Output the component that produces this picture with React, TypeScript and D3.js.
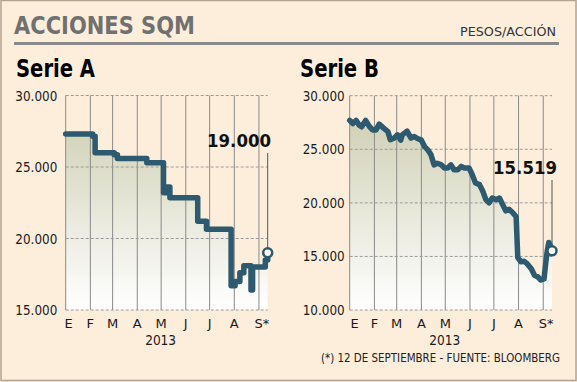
import React from "react";
import * as d3 from "d3";

const monthLabels = ["E", "F", "M", "A", "M", "J", "J", "A", "S*"];
const yearLabel = "2013";

const serieADates = [
  "2013-01-01", "2013-02-04", "2013-02-07", "2013-03-03", "2013-03-07",
  "2013-04-13", "2013-05-04", "2013-05-08", "2013-05-12", "2013-06-16",
  "2013-06-27", "2013-07-28", "2013-08-02", "2013-08-08", "2013-08-13",
  "2013-08-22", "2013-08-24", "2013-09-09", "2013-09-12",
];
const serieAValues = [
  27300, 27150, 26000, 25850, 25600,
  25300, 23200, 23600, 22850, 21200,
  20650, 16700, 17000, 17600, 18100,
  16400, 18000, 18500, 19000,
];

const serieBDates = [
  "2013-01-01", "2013-01-05", "2013-01-09", "2013-01-13", "2013-01-16",
  "2013-01-21", "2013-01-26", "2013-01-30", "2013-02-03", "2013-02-07",
  "2013-02-13", "2013-02-18", "2013-02-21", "2013-02-26", "2013-03-02",
  "2013-03-06", "2013-03-08", "2013-03-14", "2013-03-19", "2013-03-23",
  "2013-03-27", "2013-04-01", "2013-04-05", "2013-04-09", "2013-04-13",
  "2013-04-17", "2013-04-21", "2013-04-26", "2013-04-30", "2013-05-04",
  "2013-05-08", "2013-05-12", "2013-05-17", "2013-05-21", "2013-05-25",
  "2013-05-31", "2013-06-04", "2013-06-08", "2013-06-13", "2013-06-17",
  "2013-06-21", "2013-06-25", "2013-06-29", "2013-07-04", "2013-07-08",
  "2013-07-12", "2013-07-16", "2013-07-20", "2013-07-25", "2013-07-29",
  "2013-07-31", "2013-08-04", "2013-08-08", "2013-08-12", "2013-08-17",
  "2013-08-21", "2013-08-25", "2013-08-29", "2013-09-02", "2013-09-04",
  "2013-09-06", "2013-09-08", "2013-09-10", "2013-09-12",
];
const serieBValues = [
  27700, 27400, 27700, 27250, 27100,
  27700, 27100, 26800, 26800, 27350,
  26950, 26650, 25900, 26050, 26350,
  25850, 26350, 26700, 26050, 26200,
  26000, 25850, 25250, 24950, 24500,
  23550, 23700, 23550, 23250, 23250,
  23550, 23100, 23100, 23400, 23250,
  23250, 22600, 21850, 21700, 21100,
  20300, 20000, 20450, 20300, 20450,
  19850, 19250, 19400, 19050, 18700,
  14900, 14500, 14550, 14300, 13850,
  13250, 13100, 12800, 12900, 14300,
  15500, 16300, 16000, 15519,
];

const serieATicks = [15000, 20000, 25000, 30000];
const serieBTicks = [10000, 15000, 20000, 25000, 30000];

const parse = d3.timeParse("%Y-%m-%d");
const locale = d3.formatLocale({ decimal: ",", thousands: ".", grouping: [3], currency: ["$", ""] });
const fmt = locale.format(",.0f");

const LINE = "#2d5a6e";
const SANS = "'DejaVu Sans', Verdana, sans-serif";

type PanelProps = {
  id: string;
  title: string;
  titleX: number;
  x0: number;
  x1: number;
  yTop: number;
  yBottom: number;
  domain: [number, number];
  ticks: number[];
  dates: string[];
  values: number[];
  curve: d3.CurveFactory;
  tickGap: number;
  eOffset: number;
  valueText: string;
  valueLabelX: number;
  valueLabelY: number;
  leaderTop: number;
};

function Panel(p: PanelProps) {
  const start = parse("2013-01-01") as Date;
  const end = parse("2013-09-12") as Date;
  const x = d3.scaleTime().domain([start, end]).range([p.x0, p.x1]);
  const y = d3.scaleLinear().domain(p.domain).range([p.yBottom, p.yTop]);
  const data = p.dates.map((d, i) => ({ date: parse(d) as Date, value: p.values[i] }));
  const line = d3.line<{ date: Date; value: number }>().x((d) => x(d.date)).y((d) => y(d.value)).curve(p.curve);
  const area = d3.area<{ date: Date; value: number }>().x((d) => x(d.date)).y0(p.yBottom).y1((d) => y(d.value)).curve(p.curve);
  const months = d3.timeMonth.range(start, d3.timeMonth.offset(start, 9));
  const last = data[data.length - 1];
  const lx = x(last.date);
  const ly = y(last.value);
  return (
    <g>
      <defs>
        <linearGradient id={"grad" + p.id} gradientUnits="userSpaceOnUse" x1={0} y1={p.yTop + 20} x2={0} y2={p.yBottom}>
          <stop offset="0%" stopColor="#d0d0b6" />
          <stop offset="100%" stopColor="#ffffff" />
        </linearGradient>
      </defs>
      <text x={p.titleX} y={77} fontFamily={SANS} fontWeight="bold" fontSize={24} fill="#000" textLength={79} lengthAdjust="spacingAndGlyphs">{p.title}</text>
      <path d={area(data) || ""} fill={`url(#grad${p.id})`} />
      {months.map((m, i) => (
        <line key={"v" + i} x1={x(m)} x2={x(m)} y1={p.yTop} y2={p.yBottom} stroke="#8a8a8a" strokeWidth={1} />
      ))}
      {p.ticks.map((t) => (
        <line key={"h" + t} x1={p.x0} x2={p.x1} y1={y(t)} y2={y(t)} stroke="#9a9a9a" strokeWidth={1} strokeDasharray="3,2" />
      ))}
      {p.ticks.map((t) => (
        <text key={"t" + t} x={p.x0 - p.tickGap} y={y(t) + 5} textAnchor="end" fontFamily={SANS} fontSize={13.5} fill="#1a1a1a" textLength={42} lengthAdjust="spacingAndGlyphs">{fmt(t)}</text>
      ))}
      {months.map((m, i) => {
        const lab = monthLabels[i];
        const gx = x(m);
        if (i === 0) return <text key={"m" + i} x={gx + p.eOffset} y={328} textAnchor="middle" fontFamily={SANS} fontSize={13} fill="#1a1a1a">{lab}</text>;
        if (lab === "S*") return <text key={"m" + i} x={gx - 4.5} y={328} textAnchor="start" fontFamily={SANS} fontSize={13} fill="#1a1a1a">{lab}</text>;
        return <text key={"m" + i} x={gx} y={328} textAnchor="middle" fontFamily={SANS} fontSize={13} fill="#1a1a1a">{lab}</text>;
      })}
      <text x={x(d3.timeMonth.offset(start, 4)) - 16} y={344.5} fontFamily={SANS} fontSize={13.5} fill="#1a1a1a" textLength={31} lengthAdjust="spacingAndGlyphs">{yearLabel}</text>
      <line x1={lx} x2={lx} y1={p.leaderTop} y2={ly} stroke="#555" strokeWidth={1} />
      <path d={line(data) || ""} fill="none" stroke={LINE} strokeWidth={5.5} strokeLinejoin="round" strokeLinecap="round" />
      <circle cx={lx} cy={ly} r={4.5} fill="#fff" stroke={LINE} strokeWidth={2.5} />
      <text x={p.valueLabelX} y={p.valueLabelY} fontFamily={SANS} fontWeight="bold" fontSize={17} fill="#111" textLength={64} lengthAdjust="spacingAndGlyphs">{p.valueText}</text>
    </g>
  );
}

export default function App() {
  return (
    <svg width={577} height={382} style={{ position: "absolute", left: 0, top: 0, display: "block" }}>
      <rect x={0} y={0} width={577} height={382} fill="#fdeedc" />
      <rect x={1} y={0.5} width={575} height={380} fill="none" stroke="#b3a393" strokeWidth={1.5} />
      <text x={14} y={34} fontFamily={SANS} fontWeight="bold" fontSize={25} fill="#707070" textLength={181} lengthAdjust="spacingAndGlyphs">ACCIONES SQM</text>
      <text x={460} y={36} fontFamily={SANS} fontSize={13} fill="#333" textLength={96} lengthAdjust="spacingAndGlyphs">PESOS/ACCIÓN</text>
      <line x1={14} x2={559} y1={43.5} y2={43.5} stroke="#8a8a8a" strokeWidth={3} />
      <Panel
        id="A" title="Serie A" titleX={16}
        x0={65.7} x1={267.7} yTop={95.5} yBottom={310}
        domain={[15000, 30000]} ticks={serieATicks}
        dates={serieADates} values={serieAValues} curve={d3.curveStepAfter}
        tickGap={8.4} eOffset={3}
        valueText="19.000" valueLabelX={207} valueLabelY={147} leaderTop={153}
      />
      <Panel
        id="B" title="Serie B" titleX={300}
        x0={349.7} x1={552} yTop={95.7} yBottom={310}
        domain={[10000, 30000]} ticks={serieBTicks}
        dates={serieBDates} values={serieBValues} curve={d3.curveLinear}
        tickGap={5} eOffset={5}
        valueText="15.519" valueLabelX={493} valueLabelY={174} leaderTop={180}
      />
      <g transform="translate(321,361.5) scale(0.8,1)">
        <text x={0} y={0} fontFamily={SANS} fontSize={11.5} fill="#222" textLength={239 / 0.8} lengthAdjust="spacingAndGlyphs">(*) 12 DE SEPTIEMBRE - FUENTE: BLOOMBERG</text>
      </g>
    </svg>
  );
}
